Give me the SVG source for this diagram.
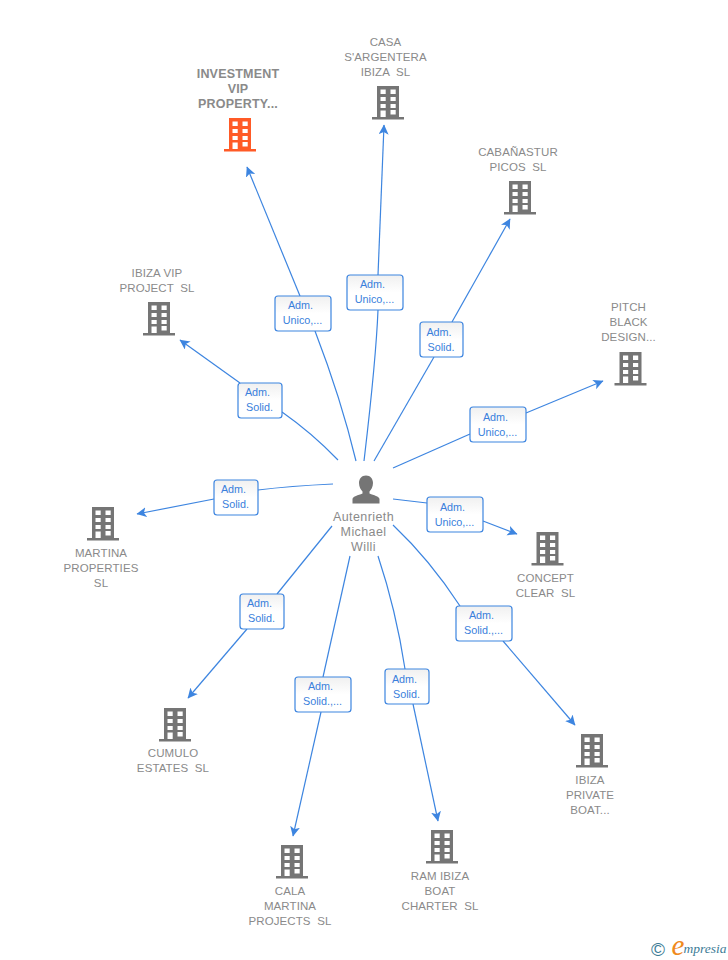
<svg xmlns="http://www.w3.org/2000/svg" width="728" height="960" viewBox="0 0 728 960">
<style>
text{font-family:"Liberation Sans",Arial,sans-serif;text-anchor:middle;white-space:pre}
.n{font-size:11.5px;fill:#8a8a8a;letter-spacing:.1px}
.m{font-size:12.5px;fill:#8a8a8a;font-weight:bold;letter-spacing:.2px}
.p{font-size:12.5px;fill:#8a8a8a;letter-spacing:.4px}
.l{font-size:10.8px;fill:#3a7fdc}
.b{fill:url(#g);stroke:#3d85e0;stroke-width:1.2}
.c{fill:none;stroke:#3d85e0;stroke-width:1.2}
.h{fill:none;stroke:#3d85e0;stroke-width:1.2;marker-end:url(#a)}
</style>
<defs>
<linearGradient id="g" x1="0" y1="0" x2="0" y2="1"><stop offset="0" stop-color="#f0f0f0"/><stop offset="0.5" stop-color="#fff"/><stop offset="1" stop-color="#fff"/></linearGradient>
<marker id="a" markerUnits="userSpaceOnUse" markerWidth="12" markerHeight="12" refX="9.5" refY="5" orient="auto"><path d="M0 0L10 5L0 10L2.5 5Z" fill="#3d85e0"/></marker>
<path id="bld" fill-rule="evenodd" d="M-11 0H11V31H16V33.5H-16V31H-11ZM-7.5 3.5V8H-2.3V3.5ZM2.5 3.5V8H7.7V3.5ZM-7.5 11V15H-2.3V11ZM2.5 11V15H7.7V11ZM-7.5 18V22H-2.3V18ZM2.5 18V22H7.7V18ZM-7.5 24.500V31H-2.3V24.500ZM2.5 24V28.500H7.7V24Z"/>
</defs>
<rect width="728" height="960" fill="#fff"/>
<g id="connectors">
<path class="h" d="M300 296L247 167"/>
<path class="c" d="M356 461C345 415 330 370 315 331"/>
<path class="h" d="M378 275L384 125"/>
<path class="c" d="M364 461C370 410 376 360 378 310"/>
<path class="h" d="M452 322L510 219"/>
<path class="c" d="M374 461L434 357"/>
<path class="h" d="M526 413L603 381"/>
<path class="c" d="M393 468L470 434"/>
<path class="h" d="M483 521L517 534"/>
<path class="c" d="M393 499L427 503"/>
<path class="h" d="M503 641L575 725"/>
<path class="c" d="M393 525Q430 560 460 606"/>
<path class="h" d="M413 704L438 821"/>
<path class="c" d="M378 556Q396 610 405 669"/>
<path class="h" d="M321 712L293 836"/>
<path class="c" d="M350 556L323 677"/>
<path class="h" d="M247 629L188 698"/>
<path class="c" d="M332 526L277 594"/>
<path class="h" d="M214 499L137 514"/>
<path class="c" d="M333 484Q290 486 258 490"/>
<path class="h" d="M240 383L180 340"/>
<path class="c" d="M338 460Q312 433 282 412"/>
</g>
<g id="edge-labels">
<g><rect class="b" x="275" y="296" width="56" height="35" rx="3"/><text class="l" x="300.500" y="309">Adm.</text><text class="l" x="302.500" y="324">Unico,...</text></g>
<g><rect class="b" x="347" y="275" width="56" height="35" rx="3"/><text class="l" x="372.500" y="288">Adm.</text><text class="l" x="374.500" y="303">Unico,...</text></g>
<g><rect class="b" x="420" y="322" width="43" height="35" rx="3"/><text class="l" x="439" y="336">Adm.</text><text class="l" x="441" y="351">Solid.</text></g>
<g><rect class="b" x="470" y="407" width="56" height="35" rx="3"/><text class="l" x="495.500" y="421">Adm.</text><text class="l" x="497.500" y="436">Unico,...</text></g>
<g><rect class="b" x="427" y="497" width="56" height="35" rx="3"/><text class="l" x="452.500" y="511">Adm.</text><text class="l" x="454.500" y="526">Unico,...</text></g>
<g><rect class="b" x="456" y="606" width="56" height="35" rx="3"/><text class="l" x="481.500" y="619">Adm.</text><text class="l" x="483.500" y="634">Solid.,...</text></g>
<g><rect class="b" x="385" y="669" width="44" height="35" rx="3"/><text class="l" x="404.500" y="683">Adm.</text><text class="l" x="406.500" y="698">Solid.</text></g>
<g><rect class="b" x="295" y="677" width="56" height="35" rx="3"/><text class="l" x="320.500" y="690">Adm.</text><text class="l" x="322.500" y="705">Solid.,...</text></g>
<g><rect class="b" x="240" y="594" width="44" height="35" rx="3"/><text class="l" x="259.500" y="607">Adm.</text><text class="l" x="261.500" y="622">Solid.</text></g>
<g><rect class="b" x="214" y="480" width="44" height="35" rx="3"/><text class="l" x="233.500" y="493">Adm.</text><text class="l" x="235.500" y="508">Solid.</text></g>
<g><rect class="b" x="238" y="383" width="44" height="35" rx="3"/><text class="l" x="257.500" y="396">Adm.</text><text class="l" x="259.500" y="411">Solid.</text></g>
</g>
<g id="node-investment"><use href="#bld" x="240" y="118" fill="#ff5a26"/><text class="m" x="238" y="78">INVESTMENT</text><text class="m" x="238" y="93">VIP</text><text class="m" x="238" y="108">PROPERTY...</text></g>
<g id="node-casa"><use href="#bld" x="388" y="86" fill="#757575"/><text class="n" x="385.500" y="46">CASA</text><text class="n" x="385.500" y="61">S'ARGENTERA</text><text class="n" x="385.500" y="76">IBIZA  SL</text></g>
<g id="node-cabanastur"><use href="#bld" x="520" y="181" fill="#757575"/><text class="n" x="518" y="156">CABAÑASTUR</text><text class="n" x="518" y="171">PICOS  SL</text></g>
<g id="node-pitch"><use href="#bld" x="630.500" y="352" fill="#757575"/><text class="n" x="628.500" y="311">PITCH</text><text class="n" x="628.500" y="326">BLACK</text><text class="n" x="628.500" y="341">DESIGN...</text></g>
<g id="node-ibizavip"><use href="#bld" x="159" y="302" fill="#757575"/><text class="n" x="157" y="277">IBIZA VIP</text><text class="n" x="157" y="292">PROJECT  SL</text></g>
<g id="node-martina"><use href="#bld" x="103" y="507" fill="#757575"/><text class="n" x="101" y="557">MARTINA</text><text class="n" x="101" y="572">PROPERTIES</text><text class="n" x="101" y="587">SL</text></g>
<g id="node-concept"><use href="#bld" x="547.500" y="532" fill="#757575"/><text class="n" x="545.500" y="582">CONCEPT</text><text class="n" x="545.500" y="597">CLEAR  SL</text></g>
<g id="node-cumulo"><use href="#bld" x="175" y="708" fill="#757575"/><text class="n" x="173" y="757">CUMULO</text><text class="n" x="173" y="772">ESTATES  SL</text></g>
<g id="node-private"><use href="#bld" x="592" y="734" fill="#757575"/><text class="n" x="590" y="784">IBIZA</text><text class="n" x="590" y="799">PRIVATE</text><text class="n" x="590" y="814">BOAT...</text></g>
<g id="node-ram"><use href="#bld" x="442" y="830" fill="#757575"/><text class="n" x="440" y="880">RAM IBIZA</text><text class="n" x="440" y="895">BOAT</text><text class="n" x="440" y="910">CHARTER  SL</text></g>
<g id="node-cala"><use href="#bld" x="292" y="845" fill="#757575"/><text class="n" x="290" y="895">CALA</text><text class="n" x="290" y="910">MARTINA</text><text class="n" x="290" y="925">PROJECTS  SL</text></g>
<g id="node-person"><path fill="#757575" d="M366 475.500C361.500 475.500 359 479 359 483C359 487 361 490 362.500 491.500V493.500C358 495.500 353 496 352.500 499V503.500H379.500V499C379 496 374 495.500 369.500 493.500V491.500C371 490 373 487 373 483C373 479 370.500 475.500 366 475.500Z"/><text class="p" x="363.500" y="521">Autenrieth</text><text class="p" x="363.500" y="536">Michael</text><text class="p" x="363.500" y="551">Willi</text></g>
<g id="logo"><text x="658" y="955.500" style="font-size:19px;fill:#3c7c96">©</text><text x="678" y="954.500" style="font-family:'Liberation Serif',serif;font-size:29px;font-style:italic;fill:#f08a1d">e</text><text x="705" y="953" style="font-family:'Liberation Serif',serif;font-size:13.500px;font-style:italic;fill:#3c7c96">mpresia</text></g>
</svg>
